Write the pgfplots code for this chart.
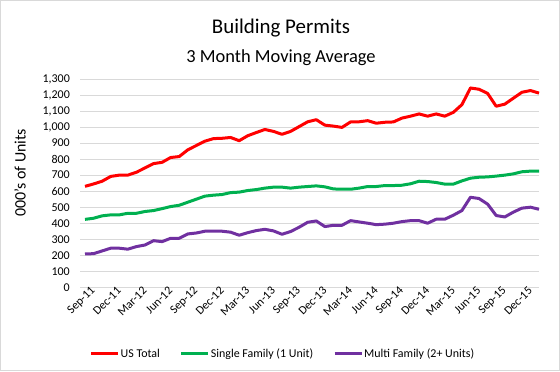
\documentclass[border=0pt]{standalone}
\usepackage{pgfplots}
\pgfplotsset{compat=1.18}
\usepackage{pgfplotstable}
\usepackage{fontspec}
\setmainfont{Carlito}
\definecolor{usred}{HTML}{FF0000}
\definecolor{sfgreen}{HTML}{00B050}
\definecolor{mfpurple}{HTML}{7030A0}
\definecolor{gridgray}{HTML}{D9D9D9}
\pgfplotstableread{
i us sf mf
0 630 424 208
1 645 431 210
2 662 446 227
3 692 452 244
4 700 452 244
5 700 462 238
6 718 462 254
7 745 473 264
8 772 479 291
9 780 491 285
10 810 504 306
11 816 512 306
12 858 531 333
13 885 550 339
14 912 569 350
15 928 575 350
16 930 579 350
17 935 591 344
18 915 594 325
19 946 604 341
20 966 610 354
21 985 619 362
22 973 625 352
23 955 625 331
24 973 619 348
25 1003 625 375
26 1033 629 406
27 1046 633 414
28 1012 627 379
29 1006 614 387
30 998 612 387
31 1032 612 416
32 1033 619 408
33 1040 629 400
34 1024 629 391
35 1030 635 394
36 1032 635 400
37 1056 637 410
38 1068 646 416
39 1082 662 416
40 1068 660 400
41 1082 654 425
42 1068 644 425
43 1092 644 450
44 1140 664 479
45 1244 681 562
46 1236 687 554
47 1210 689 519
48 1130 694 448
49 1143 700 439
50 1180 708 469
51 1217 721 494
52 1228 725 500
53 1212 725 487
}\permits
\begin{document}
\begin{tikzpicture}[x=1bp,y=1bp]
\draw[gridgray, line width=1bp] (0.5,0.5) rectangle (559.5,370.5);
\node[font=\fontsize{21}{25}\selectfont, anchor=base, inner sep=0pt] at (281,338) {Building Permits};
\node[font=\fontsize{18.5}{22}\selectfont, anchor=base, inner sep=0pt] at (281,309) {3 Month Moving Average};
\node[font=\fontsize{16}{19}\selectfont, rotate=90, inner sep=0pt] at (20,198) {000's of Units};
\begin{axis}[
  at={(80bp,83.7bp)}, anchor=south west,
  width=459bp, height=208.3bp, scale only axis,
  xmin=-0.584, xmax=53, ymin=0, ymax=1300,
  clip=false,
  axis line style={draw=none},
  ytick={0,100,...,1300},
  xtick={0,3,...,51},
  xticklabels={Sep-11,Dec-11,Mar-12,Jun-12,Sep-12,Dec-12,Mar-13,Jun-13,Sep-13,Dec-13,Mar-14,Jun-14,Sep-14,Dec-14,Mar-15,Jun-15,Sep-15,Dec-15},
  major tick length=0pt,
  ymajorgrids,
  grid style={draw=gridgray, line width=0.75bp},
  /pgf/number format/assume math mode=true,
  /pgf/number format/1000 sep={,},
  yticklabel style={font=\fontsize{12}{14}\selectfont, anchor=east, inner sep=0pt, xshift=-10bp},
  xticklabel style={font=\fontsize{12}{14}\selectfont, rotate=45, anchor=east, inner sep=0pt, xshift=5bp, yshift=-7bp},
  legend columns=3,
  legend cell align=left,
  legend image code/.code={\draw[#1, line width=3bp] (0bp,0bp) -- (27bp,0bp);},
  legend style={draw=none, fill=none, at={(0.441,-0.32)}, anchor=center,
    font=\fontsize{12}{14}\selectfont,
    nodes={inner sep=1bp},
    /tikz/every even column/.append style={column sep=19bp}},
]
\addplot[usred, line width=3bp, line join=round] table[x=i,y=us]{\permits};
\addlegendentry{US Total}
\addplot[sfgreen, line width=3bp, line join=round] table[x=i,y=sf]{\permits};
\addlegendentry{Single Family (1 Unit)}
\addplot[mfpurple, line width=3bp, line join=round] table[x=i,y=mf]{\permits};
\addlegendentry{Multi Family (2+ Units)}
\end{axis}
\end{tikzpicture}
\end{document}
